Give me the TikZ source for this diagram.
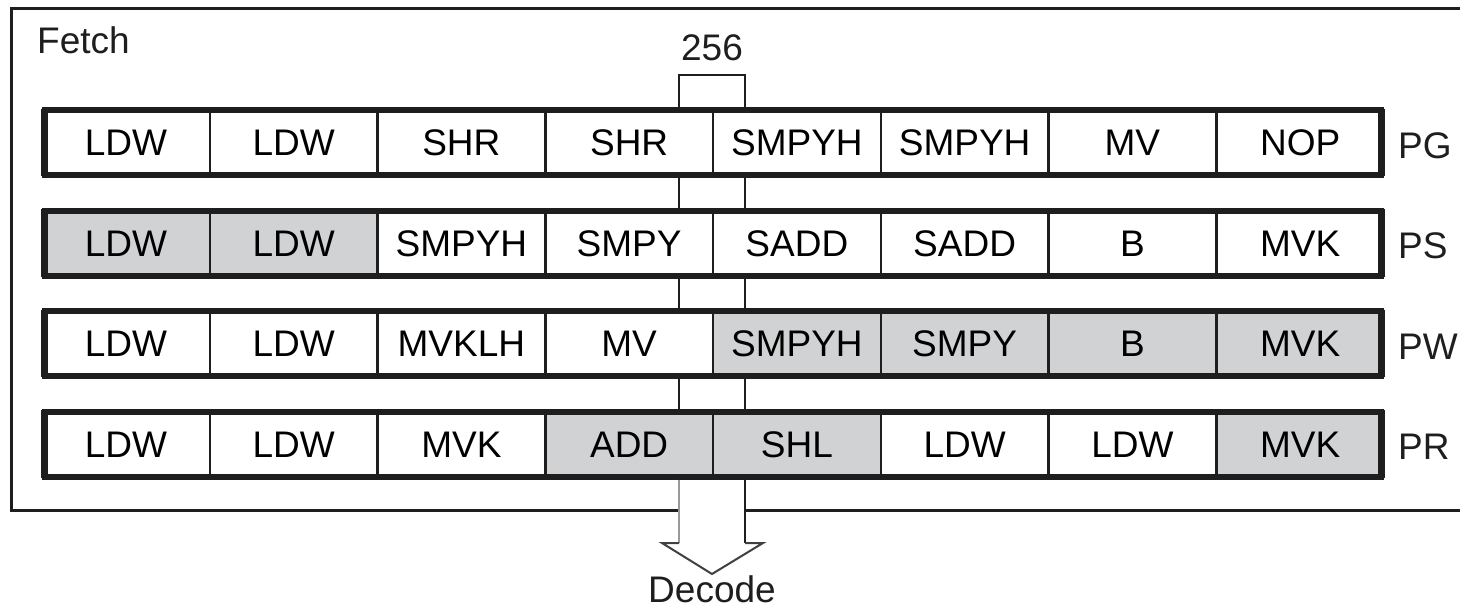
\documentclass[tikz,border=0pt]{standalone}
\usepackage{fontspec}
\setmainfont{Liberation Sans}
\usetikzlibrary{calc}
\definecolor{cellgray}{RGB}{209,210,212}
\definecolor{ink}{RGB}{30,30,30}
\begin{document}
\begin{tikzpicture}[x=1pt,y=-1pt,
  bigfont/.style={font=\fontsize{37}{40}\selectfont},
  cell/.style={draw=ink, line width=2.5pt, minimum width=167.75pt, minimum height=65pt,
    inner sep=0pt, text height=26.5pt, text depth=0pt, bigfont},
  wcell/.style={fill=white},
  gcell/.style={fill=cellgray},
  rowbox/.style={draw=ink, line width=6pt, minimum width=1336pt, minimum height=65pt, inner sep=0pt},
  lbl/.style={inner sep=0pt, text height=26.5pt, text depth=0pt, bigfont, text=ink},
  bus/.style={draw=ink, line width=2.5pt},
  frame/.style={draw=ink, line width=3pt}]
\useasboundingbox (0,0) rectangle (1460,607);

% frame (open to the right)
\coordinate (frTL) at (11,9);
\coordinate (frBL) at (11,510);
\coordinate (frTR) at (1475,9);
\coordinate (frBR) at (1475,510);
\coordinate (busL) at (679,0);
\coordinate (busR) at (745,0);
\coordinate (brTop) at (0,75);
\coordinate (wing) at (0,543);
\coordinate (wingL) at (662,543);
\coordinate (wingR) at (763,543);
\coordinate (tip) at (712,574);

\draw[frame] (busL |- frBL) -- (frBL) -- (frTL) -- (frTR);
\draw[frame] (busR |- frBR) -- (frBR);

\node[lbl, anchor=base west] (fetch) at (37,54) {Fetch};

% row PG
\foreach \t/\s [count=\c] in {LDW/wcell,LDW/wcell,SHR/wcell,SHR/wcell,SMPYH/wcell,SMPYH/wcell,MV/wcell,NOP/wcell}
  \node[cell,\s] (r1c\c) at (42+167.75*\c-83.875,142.5) {\t};
\node[rowbox] (row1) at (713,142.5) {};
% row PS
\foreach \t/\s [count=\c] in {LDW/gcell,LDW/gcell,SMPYH/wcell,SMPY/wcell,SADD/wcell,SADD/wcell,B/wcell,MVK/wcell}
  \node[cell,\s] (r2c\c) at (42+167.75*\c-83.875,243) {\t};
\node[rowbox] (row2) at (713,243) {};
% row PW
\foreach \t/\s [count=\c] in {LDW/wcell,LDW/wcell,MVKLH/wcell,MV/wcell,SMPYH/gcell,SMPY/gcell,B/gcell,MVK/gcell}
  \node[cell,\s] (r3c\c) at (42+167.75*\c-83.875,343.5) {\t};
\node[rowbox] (row3) at (713,343.5) {};
% row PR
\foreach \t/\s [count=\c] in {LDW/wcell,LDW/wcell,MVK/wcell,ADD/gcell,SHL/gcell,LDW/wcell,LDW/wcell,MVK/gcell}
  \node[cell,\s] (r4c\c) at (42+167.75*\c-83.875,444) {\t};
\node[rowbox] (row4) at (713,444) {};

% row labels
\node[lbl, anchor=west] (lPG) at ($(row1.east)+(14,2.5)$) {PG};
\node[lbl, anchor=west] (lPS) at ($(row2.east)+(14,2.5)$) {PS};
\node[lbl, anchor=west] (lPW) at ($(row3.east)+(14,2.5)$) {PW};
\node[lbl, anchor=west] (lPR) at ($(row4.east)+(14,2.5)$) {PR};

% 256-bit bus
\draw[bus] (busL |- row1.north) -- (busL |- brTop) -- (busR |- brTop) -- (busR |- row1.north);
\node[lbl, anchor=base] (w256) at (712,61) {256};
\draw[bus] (busL |- row1.south) -- (busL |- row2.north);
\draw[bus] (busR |- row1.south) -- (busR |- row2.north);
\draw[bus] (busL |- row2.south) -- (busL |- row3.north);
\draw[bus] (busR |- row2.south) -- (busR |- row3.north);
\draw[bus] (busL |- row3.south) -- (busL |- row4.north);
\draw[bus] (busR |- row3.south) -- (busR |- row4.north);

% output arrow to Decode
\draw[line width=2.5pt, draw=gray!80] (busL |- row4.south) -- (busL |- wing);
\draw[bus] (busR |- row4.south) -- (busR |- wing);
\draw[line width=2pt, draw=ink!85, line join=miter] (busL |- wing) -- (wingL) -- (tip) -- (wingR) -- (busR |- wing);
\node[lbl, anchor=base] (decode) at (712,602) {Decode};
\end{tikzpicture}
\end{document}
